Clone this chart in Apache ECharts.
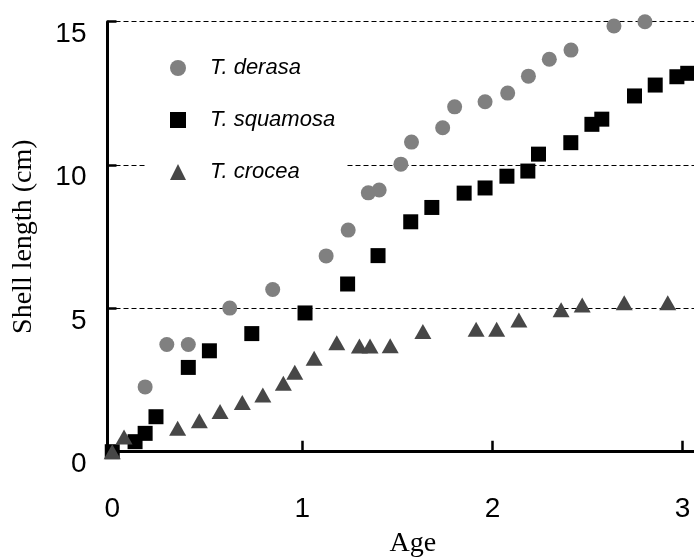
<!DOCTYPE html>
<html>
<head>
<meta charset="utf-8">
<script src="https://cdn.jsdelivr.net/npm/echarts@6/dist/echarts.min.js"></script>
<style>
html,body{margin:0;padding:0;background:#fff;}
#chart{width:694px;height:558px;}
</style>
</head>
<body>
<div id="chart"></div>
<script>
var seriesNames = ['T. derasa', 'T. squamosa', 'T. crocea'];
var xTickLabels = [0, 1, 2, 3];
var yTickLabels = [0, 5, 10, 15];

var derasaAge = [0.173, 0.287, 0.400, 0.618, 0.844, 1.125, 1.241, 1.347, 1.404, 1.518, 1.574, 1.738, 1.801, 1.961, 2.080, 2.189, 2.299, 2.413, 2.639, 2.802];
var derasaLen = [2.26, 3.74, 3.74, 5.01, 5.66, 6.83, 7.73, 9.03, 9.13, 10.03, 10.80, 11.30, 12.03, 12.21, 12.51, 13.10, 13.69, 14.01, 14.85, 15.00];

var squamosaAge = [0, 0.120, 0.173, 0.230, 0.400, 0.511, 0.734, 1.014, 1.238, 1.398, 1.570, 1.681, 1.851, 1.961, 2.076, 2.186, 2.242, 2.412, 2.523, 2.575, 2.747, 2.856, 2.970, 3.027];
var squamosaLen = [0, 0.35, 0.64, 1.22, 2.94, 3.52, 4.12, 4.84, 5.85, 6.84, 8.02, 8.52, 9.02, 9.20, 9.61, 9.79, 10.38, 10.78, 11.42, 11.60, 12.41, 12.79, 13.08, 13.20];

var croceaAge = [0, 0.062, 0.344, 0.458, 0.567, 0.684, 0.792, 0.900, 0.960, 1.062, 1.181, 1.300, 1.356, 1.462, 1.634, 1.914, 2.022, 2.139, 2.361, 2.472, 2.693, 2.922];
var croceaLen = [0, 0.51, 0.82, 1.08, 1.40, 1.72, 1.98, 2.39, 2.77, 3.26, 3.80, 3.69, 3.69, 3.70, 4.19, 4.27, 4.27, 4.59, 4.95, 5.12, 5.20, 5.20];

function pairs(xs, ys) {
  return xs.map(function (x, i) { return [x, ys[i]]; });
}

var sans = 'Arial, "Liberation Sans", Helvetica, sans-serif';
var serif = '"Times New Roman", "Liberation Serif", Times, serif';

var chart = echarts.init(document.getElementById('chart'), null, {renderer: 'canvas'});
chart.setOption({
  backgroundColor: '#ffffff',
  animation: false,
  grid: {left: 107.5, right: 0, top: 21.7, bottom: 106.3, containLabel: false, outerBoundsMode: 'none'},
  legend: {
    orient: 'vertical',
    left: 145,
    top: 45,
    padding: [12, 10, 12, 25],
    backgroundColor: '#ffffff',
    itemWidth: 16,
    itemHeight: 16,
    itemGap: 30,
    data: seriesNames,
    textStyle: {
      fontFamily: sans,
      fontStyle: 'italic',
      fontSize: 22,
      color: '#000',
      padding: [6, 0, 0, 19]
    }
  },
  xAxis: {
    type: 'value',
    min: -0.025,
    max: 3.06,
    name: 'Age',
    nameLocation: 'middle',
    nameGap: 78,
    nameTextStyle: {fontFamily: serif, fontSize: 28, color: '#000', padding: [0, 0, 0, 24]},
    axisLine: {show: true, onZero: false, lineStyle: {color: '#000', width: 3}},
    axisTick: {show: true, inside: true, length: 11, customValues: [1, 2, 3], lineStyle: {color: '#000', width: 2.5}},
    axisLabel: {customValues: xTickLabels, fontFamily: sans, fontSize: 28, color: '#000', margin: 44},
    splitLine: {show: false}
  },
  yAxis: {
    type: 'value',
    min: 0,
    max: 15,
    interval: 5,
    name: 'Shell length (cm)',
    nameLocation: 'middle',
    nameGap: 70,
    nameTextStyle: {fontFamily: serif, fontSize: 28, color: '#000'},
    axisLine: {show: true, onZero: false, lineStyle: {color: '#000', width: 3}},
    axisTick: {show: true, inside: true, length: 9, lineStyle: {color: '#000', width: 2.5}},
    axisLabel: {customValues: yTickLabels, fontFamily: sans, fontSize: 28, color: '#000', margin: 21, verticalAlign: 'top', lineHeight: 25},
    splitLine: {show: true, lineStyle: {color: '#000', width: 1.2, type: [5, 3]}}
  },
  series: [
    {
      name: seriesNames[0], type: 'scatter', symbol: 'circle', symbolSize: 15, clip: false,
      itemStyle: {color: '#808080', opacity: 1},
      data: pairs(derasaAge, derasaLen)
    },
    {
      name: seriesNames[1], type: 'scatter', symbol: 'rect', symbolSize: 15, clip: false,
      itemStyle: {color: '#000000', opacity: 1},
      data: pairs(squamosaAge, squamosaLen)
    },
    {
      name: seriesNames[2], type: 'scatter', symbol: 'triangle', symbolSize: [17, 15], clip: false,
      itemStyle: {color: '#474747', opacity: 1},
      data: pairs(croceaAge, croceaLen)
    }
  ]
});
</script>
</body>
</html>
